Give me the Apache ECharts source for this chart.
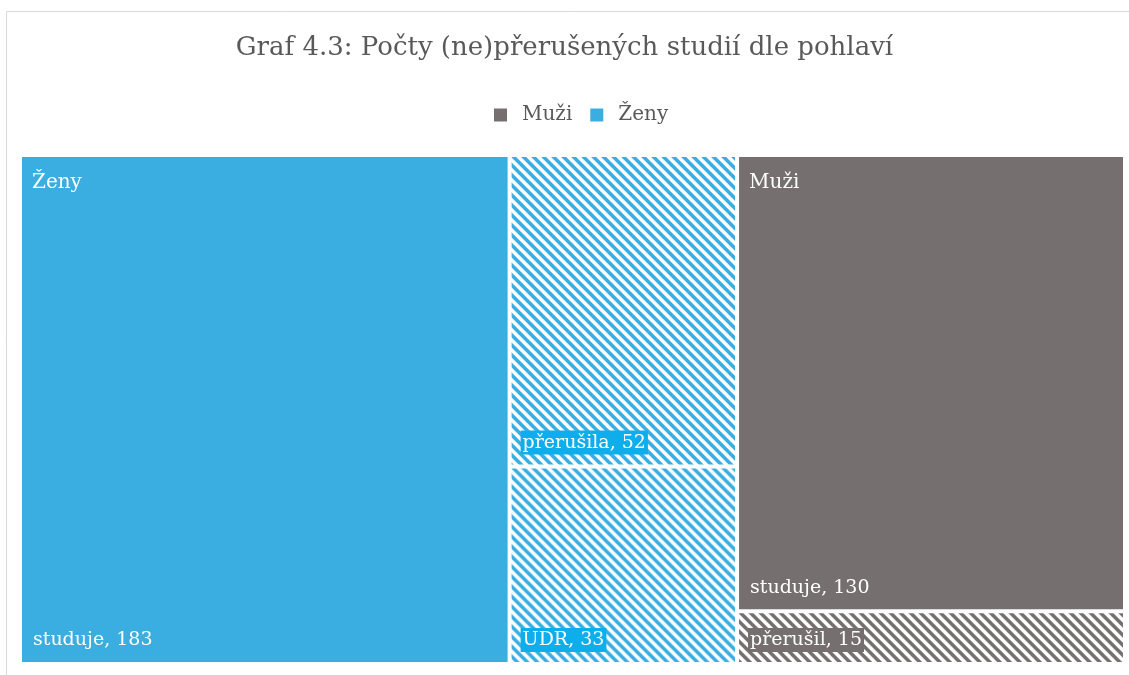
<!DOCTYPE html>
<html>
<head>
<meta charset="utf-8">
<script src="https://cdn.jsdelivr.net/npm/echarts@6/dist/echarts.min.js"></script>
<style>
html,body{margin:0;padding:0;background:#fff;}
#main{width:1129px;height:675px;}
</style>
</head>
<body>
<div id="main"></div>
<script>
// skupiny a hodnoty
var groups = ['Ženy', 'Muži'];
var zenyNames = ['studuje', 'přerušila', 'UDR'];
var zenyValues = [183, 52, 33];
var muziNames = ['studuje', 'přerušil'];
var muziValues = [130, 15];
var hatched = [[false, true, true], [false, true]];   // šrafované buňky

var blue = '#3aaee0';
var blueLabel = '#0eadeb';
var gray = '#75706f';

// šrafování \\\ jako vzor
function stripes(color){
	var c = document.createElement('canvas');
	c.width = 10; c.height = 10;
	var ctx = c.getContext('2d');
	ctx.fillStyle = '#fff';
	ctx.fillRect(0, 0, 10, 10);
	ctx.fillStyle = color;
	for(var y = 0; y < 10; y++){
		for(var x = 0; x < 10; x++){
			if(((x - y + 100) % 10) < 5){
				ctx.fillRect(x, y, 1, 1);
			}
		}
	}
	return c;
}

var font = 'DejaVu Serif';
var groupColor = [blue, gray];
var groupLabelBg = [blueLabel, gray];
var groupNames = [zenyNames, muziNames];
var groupValues = [zenyValues, muziValues];

var data = [];
var overlay = [];
for(var g = 0; g < groups.length; g++){
	var kids = [];
	var okids = [];
	for(var i = 0; i < groupNames[g].length; i++){
		var h = hatched[g][i];
		kids.push({
			name: groupNames[g][i],
			value: groupValues[g][i],
			itemStyle: {
				color: h ? {image: stripes(groupColor[g]), repeat: 'repeat'} : groupColor[g]
			},
			label: {
				rich: {
					t: {
						fontFamily: font,
						fontSize: 19,
						lineHeight: 24,
						color: '#fff',
						padding: [3, 2, 2, 2],
						backgroundColor: h ? groupLabelBg[g] : 'transparent'
					}
				}
			}
		});
		// druhá vrstva jen pro popisek skupiny (vlevo nahoře)
		okids.push({
			name: groupNames[g][i],
			value: groupValues[g][i],
			label: {
				show: i === 0,
				formatter: groups[g]
			}
		});
	}
	data.push({name: groups[g], children: kids});
	overlay.push({name: groups[g], children: okids});
}

var chart = echarts.init(document.getElementById('main'));
var common = {
	type: 'treemap',
	left: 22,
	top: 157,
	right: 6,
	bottom: 13,
	roam: false,
	nodeClick: false,
	breadcrumb: {show: false},
	animation: false
};
var option = {
	animation: false,
	title: {
		text: 'Graf 4.3: Počty (ne)přerušených studií dle pohlaví',
		left: 'center',
		top: 30,
		textStyle: {
			fontFamily: font,
			fontWeight: 'normal',
			fontSize: 26,
			color: '#595959'
		}
	},
	legend: {
		top: 100,
		left: 489,
		icon: 'rect',
		itemWidth: 13,
		itemHeight: 13,
		itemGap: 18,
		selectedMode: false,
		textStyle: {
			fontFamily: font,
			fontSize: 20,
			color: '#595959',
			padding: [0, 0, 0, 10]
		},
		data: ['Muži', 'Ženy']
	},
	graphic: [{
		type: 'rect',
		shape: {x: 6.5, y: 11.5, width: 1140, height: 700},
		style: {fill: 'none', stroke: '#d9d9d9', lineWidth: 1},
		silent: true
	}],
	series: [
		Object.assign({}, common, {
			name: 'main',
			label: {
				show: true,
				position: 'insideTopLeft',
				padding: 0,
				formatter: '{t|{b}, {c}}'
			},
			// popisek k dolnímu okraji buňky
			labelLayout: function(p){
				return {
					x: p.rect.x + 9,
					y: p.rect.y + p.rect.height - 34,
					align: 'left',
					verticalAlign: 'top'
				};
			},
			upperLabel: {show: false},
			levels: [
				{itemStyle: {gapWidth: 4, borderWidth: 0, borderColor: '#fff'}},
				{itemStyle: {gapWidth: 4, borderWidth: 0, borderColor: '#fff'}},
				{itemStyle: {borderWidth: 0}}
			],
			data: data
		}),
		Object.assign({}, common, {
			name: 'labels',
			silent: true,
			itemStyle: {color: 'transparent', borderColor: 'transparent'},
			label: {
				show: true,
				position: 'insideTopLeft',
				distance: 10,
				padding: [6, 0, 0, 0],
				fontFamily: font,
				fontSize: 20,
				color: '#fff'
			},
			upperLabel: {show: false},
			levels: [
				{itemStyle: {gapWidth: 4, borderWidth: 0, borderColor: 'transparent', color: 'transparent'}},
				{itemStyle: {gapWidth: 4, borderWidth: 0, borderColor: 'transparent', color: 'transparent'}},
				{itemStyle: {borderWidth: 0, borderColor: 'transparent', color: 'transparent'}}
			],
			data: overlay
		}),
		{
			// jen kvůli legendě
			type: 'pie',
			name: 'legend',
			radius: [0, 0],
			stillShowZeroSum: false,
			silent: true,
			label: {show: false},
			data: [
				{name: 'Muži', value: 0, itemStyle: {color: gray}},
				{name: 'Ženy', value: 0, itemStyle: {color: blue}}
			]
		}
	]
};
chart.setOption(option);
</script>
</body>
</html>
